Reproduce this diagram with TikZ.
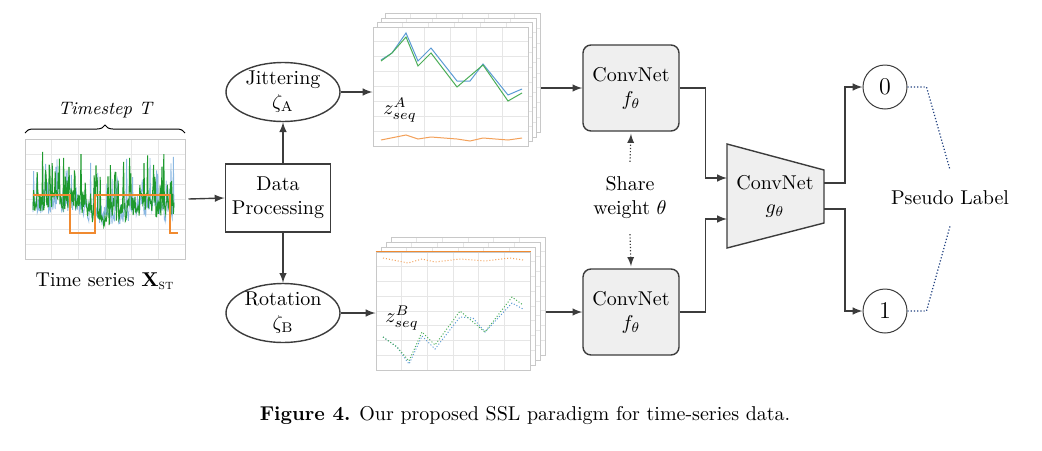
\documentclass[tikz,border=0pt]{standalone}
\usepackage{amsmath}
\usepackage{tikz}
\usetikzlibrary{shapes.geometric,arrows.meta,calc,arrows,positioning,decorations.pathreplacing}
\tikzset{>=latex}
\usepackage{xcolor}
\definecolor{linegray}{HTML}{3C3C3C}
\definecolor{boxgray}{HTML}{EFEFEF}
\definecolor{sheetgray}{HTML}{C8C8C8}
\definecolor{gridgray}{HTML}{E6E6E6}
\definecolor{tsgreen}{HTML}{1E9A2E}
\definecolor{tsblue}{HTML}{5B9BD5}
\definecolor{tsorange}{HTML}{F08A30}
\definecolor{plnavy}{HTML}{1F3F7F}

\begin{document}
\begin{tikzpicture}[x=0.5pt,y=-0.5pt,
    line/.style={draw=linegray, line width=0.7pt},
    grid/.style={path picture={
        \foreach \t in {1,...,5}
          \draw[gridgray, line width=0.4pt]
            ($(path picture bounding box.south west)!\t/6!(path picture bounding box.south east)$) --
            ($(path picture bounding box.north west)!\t/6!(path picture bounding box.north east)$);
        \foreach \t in {1,...,7}
          \draw[gridgray, line width=0.4pt]
            ($(path picture bounding box.south west)!\t/8!(path picture bounding box.north west)$) --
            ($(path picture bounding box.south east)!\t/8!(path picture bounding box.north east)$);
      }},
    sheet/.style={draw=sheetgray, fill=white, line width=0.5pt, inner sep=0pt, grid},
    augnode/.style={ellipse, line, fill=white, minimum width=57pt, minimum height=29.5pt,
      inner sep=0pt, align=center},
    convbox/.style={line, fill=boxgray, rounded corners=4pt, minimum width=48pt,
      minimum height=43pt, align=center},
    outcirc/.style={circle, draw=linegray, line width=0.5pt, minimum size=22pt,
      inner sep=0pt, font=\large}]
  \useasboundingbox (0,0) rectangle (1042,450);

  % input time series
  \node[sheet, minimum width=80pt, minimum height=60pt] (tsplot) at (105,199) {};
  \draw[decorate, decoration={brace, amplitude=4pt}, line width=0.5pt]
    (25,133) -- (185,133) node[midway, above=4pt, font=\small\itshape] (tstep) {Timestep T};
  \pgfmathsetseed{42}
  \begin{scope}
    \clip (28,142) rectangle (182,256);
    \draw[tsblue!70, line width=0.4pt] (33,212)
      \foreach \i in {1,...,235} { -- ({33+\i*0.6},{209-9*sin(\i*2.1)*sin(\i*0.9)+10*rand-48*rnd^6}) };
    \draw[tsgreen, line width=0.5pt] (33,210)
      \foreach \i in {1,...,235} { -- ({33+\i*0.6},{207-10*sin(\i*2.1)*sin(\i*0.9)+11*rand-50*rnd^6}) };
  \end{scope}
  \draw[tsorange, line width=0.6pt] (33,195) -- (70,195) -- (70,233) -- (95,233)
    -- (95,195) -- (170,195) -- (170,233) -- (178,233);
  \node[below=3pt of tsplot] (tslabel) {Time series $\mathbf{X}_{\textsc{st}}$};

  % processing
  \node[line, minimum width=52pt, minimum height=34pt, align=center] (dp) at (278,198)
    {Data\\Processing};
  \node[augnode] (jit) at (283,92) {Jittering\\$\zeta_{\mathrm{A}}$};
  \node[augnode] (rot) at (283,313) {Rotation\\$\zeta_{\mathrm{B}}$};

  % augmented series
  \foreach \k in {3,2,1,0}
    \node[sheet, minimum width=77.5pt, minimum height=59.5pt] (sA\k) at ({450.5+4*\k},{86.5-4.5*\k}) {};
  \draw[tsblue, line width=0.5pt] plot coordinates {(381,60) (392,53) (406,33) (418,61) (431,48)
    (457,81) (470,81) (483,64) (508,95) (522,89)};
  \draw[tsgreen!80, line width=0.5pt] plot coordinates {(381,61) (392,53) (406,37) (418,66) (431,53)
    (457,87) (483,65) (508,101) (522,93)};
  \draw[tsorange!80, line width=0.5pt] plot coordinates {(381,140) (406,135) (418,139) (431,137)
    (457,139) (470,141) (483,138) (508,140) (522,138)};
  \node (zA) at (400,110) {$z^{A}_{seq}$};

  \foreach \k in {3,2,1,0}
    \node[sheet, minimum width=77pt, minimum height=59pt] (sB\k) at ({453+5*\k},{311-5*\k}) {};
  \draw[tsorange, line width=0.6pt] (sB0.north west) -- (sB0.north east);
  \draw[tsorange!80, line width=0.5pt, densely dotted] plot coordinates {(383,258) (408,263) (422,259)
    (435,262) (460,259) (485,261) (510,258) (523,260)};
  \draw[tsblue, line width=0.5pt, densely dotted] plot coordinates {(383,337) (397,347) (409,364)
    (422,336) (435,349) (460,317) (473,318) (485,332) (512,303) (523,309)};
  \draw[tsgreen!80, line width=0.5pt, densely dotted] plot coordinates {(383,337) (397,347) (409,361)
    (422,332) (435,345) (460,311) (485,332) (512,297) (523,305)};
  \node (zB) at (402,318) {$z^{B}_{seq}$};

  % encoders
  \node[convbox] (encA) at (631,88) {ConvNet\\$f_\theta$};
  \node[convbox] (encB) at (631,312) {ConvNet\\$f_\theta$};
  \node[align=center] (share) at (630,198) {Share\\weight $\theta$};

  % projection head
  \draw[line, fill=boxgray] (727,144) -- (824,170) -- (824,223) -- (727,248) -- cycle;
  \node[align=center] (head) at (775,196) {ConvNet\\$g_\theta$};
  \coordinate (hinA) at (727,178);
  \coordinate (hinB) at (727,219);
  \coordinate (houtA) at (824,183);
  \coordinate (houtB) at (824,209);

  % pseudo labels
  \node[outcirc] (lab0) at (885,87) {0};
  \node[outcirc] (lab1) at (885,311) {1};
  \node (pseudo) at (950,198) {Pseudo Label};

  % connectors
  \draw[line, ->] ([xshift=1.5pt]tsplot.east) -- (dp.west);
  \draw[line, ->] (jit.south |- dp.north) -- (jit.south);
  \draw[line, ->] (rot.north |- dp.south) -- (rot.north);
  \draw[line, ->] (jit.east) -- (jit.east -| sA0.west);
  \draw[line, ->] (rot.east) -- (rot.east -| sB0.west);
  \draw[line, ->] (sA3.east |- encA.west) -- (encA.west);
  \draw[line, ->] (sB3.east |- encB.west) -- (encB.west);
  \draw[line, ->] (encA.east) -- ++(26,0) |- (hinA);
  \draw[line, ->] (encB.east) -- ++(26,0) |- (hinB);
  \draw[line, ->] (houtA) -- ++(21,0) |- (lab0.west);
  \draw[line, ->] (houtB) -- ++(21,0) |- (lab1.west);
  \draw[linegray, line width=0.6pt, densely dotted, ->] ([yshift=4pt]share.north) -- ([yshift=-1pt]encA.south);
  \draw[linegray, line width=0.6pt, densely dotted, ->] ([yshift=-4pt]share.south) -- ([yshift=1pt]encB.north);
  \draw[plnavy, line width=0.6pt, densely dotted] (lab0.east) -- ++(19,0) -- ([yshift=7pt]pseudo.north);
  \draw[plnavy, line width=0.6pt, densely dotted] (lab1.east) -- ++(19,0) -- ([yshift=-7pt]pseudo.south);

  \node (caption) at (525,416) {\textbf{Figure 4.} Our proposed SSL paradigm for time-series data.};
\end{tikzpicture}
\end{document}
